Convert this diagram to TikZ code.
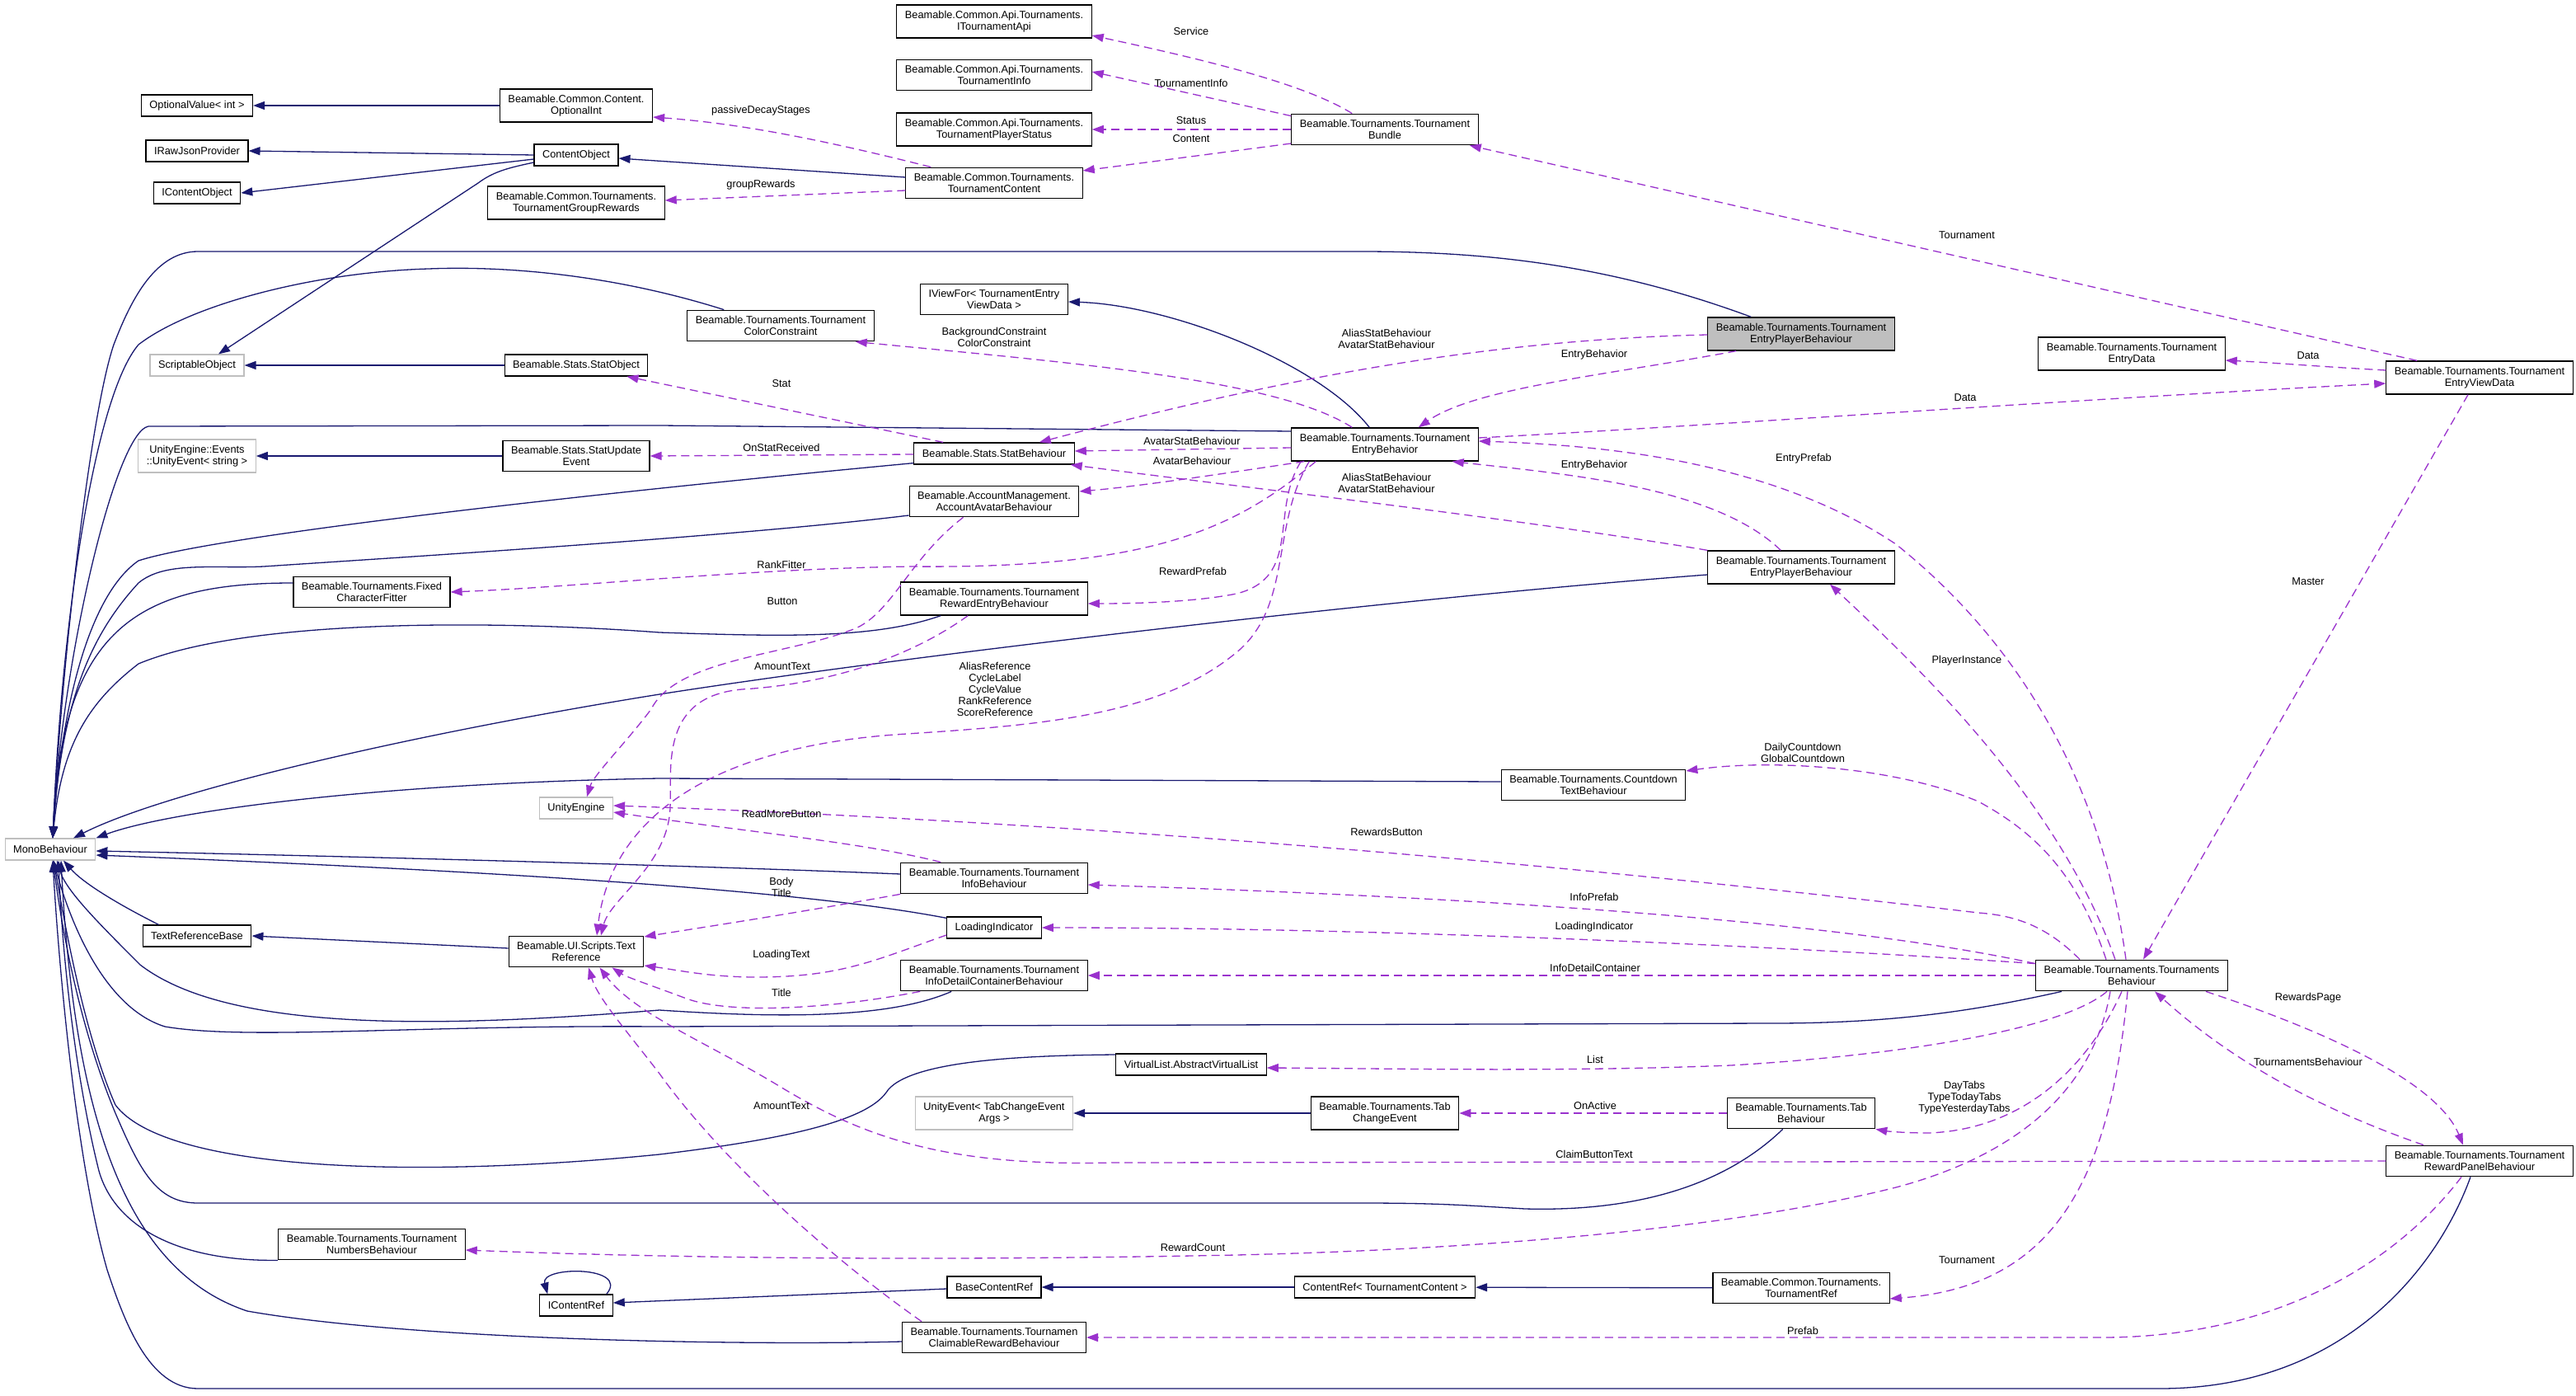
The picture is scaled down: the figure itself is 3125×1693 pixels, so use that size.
\documentclass[tikz,border=0pt]{standalone}
\usepackage{fontspec}
\newfontfamily\dxfamily{Liberation Sans}
\newcommand{\dxfont}{\dxfamily\fontsize{12.8}{14.2}\selectfont}
\usetikzlibrary{arrows.meta,calc}
\definecolor{inhblue}{RGB}{25,25,112}
\definecolor{usepurple}{RGB}{154,50,205}
\definecolor{extgray}{RGB}{191,191,191}

\begin{document}
\begin{tikzpicture}[x=1pt, y=-1pt,
    cls/.style={draw=black, fill=white, line width=1.2pt, font=\dxfont, align=center,
      inner xsep=10pt, inner ysep=7pt, minimum height=26pt},
    ext/.style={cls, draw=extgray},
    focusbox/.style={cls, fill=extgray},
    inh/.style={draw=inhblue, line width=1.3pt, -{Triangle[length=14pt,width=10pt]}},
    usage/.style={draw=usepurple, line width=1.3pt, dash pattern=on 10pt off 6pt,
      -{Triangle[length=14pt,width=10pt]}},
    lbl/.style={font=\dxfont, align=center, inner sep=0pt}
  ]
  \useasboundingbox (0,0) rectangle (3125,1693);
  \fill[white] (0,0) rectangle (3125,1693);

  % left columns
  \node[cls] (optval) at (239,128) {OptionalValue< int >};
  \node[cls] (rawjson) at (239,183) {IRawJsonProvider};
  \node[cls] (icontobj) at (239,234) {IContentObject};
  \node[ext] (scriptobj) at (239,443) {ScriptableObject};
  \node[ext] (uevstr) at (239,553) {UnityEngine::Events\\::UnityEvent< string >};
  \node[ext] (mono) at (61,1030) {MonoBehaviour};
  \node[cls] (textrefbase) at (239,1135) {TextReferenceBase};
  \node[cls] (fitter) at (451,718) {Beamable.Tournaments.Fixed\\CharacterFitter};
  \node[cls] (numbers) at (451,1509) {Beamable.Tournaments.Tournament\\NumbersBehaviour};

  \node[cls] (optint) at (699,128) {Beamable.Common.Content.\\OptionalInt};
  \node[cls] (contobj) at (699,188) {ContentObject};
  \node[cls] (grprew) at (699,246) {Beamable.Common.Tournaments.\\TournamentGroupRewards};
  \node[cls] (statobj) at (699,443) {Beamable.Stats.StatObject};
  \node[cls] (statupd) at (699,553) {Beamable.Stats.StatUpdate\\Event};
  \node[ext] (uengine) at (699,980) {UnityEngine};
  \node[cls] (textref) at (699,1154) {Beamable.UI.Scripts.Text\\Reference};
  \node[cls] (icontref) at (699,1583) {IContentRef};

  % middle column
  \node[cls] (tapi) at (1206,26) {Beamable.Common.Api.Tournaments.\\ITournamentApi};
  \node[cls] (tinfo) at (1206,91) {Beamable.Common.Api.Tournaments.\\TournamentInfo};
  \node[cls] (tpstat) at (1206,157) {Beamable.Common.Api.Tournaments.\\TournamentPlayerStatus};
  \node[cls] (tcontent) at (1206,222) {Beamable.Common.Tournaments.\\TournamentContent};
  \node[cls] (iviewfor) at (1206,363) {IViewFor< TournamentEntry\\ViewData >};
  \node[cls] (colorcon) at (947,395) {Beamable.Tournaments.Tournament\\ColorConstraint};
  \node[cls] (statbeh) at (1206,550) {Beamable.Stats.StatBehaviour};
  \node[cls] (avatar) at (1206,608) {Beamable.AccountManagement.\\AccountAvatarBehaviour};
  \node[cls] (rewentry) at (1206,726) {Beamable.Tournaments.Tournament\\RewardEntryBehaviour};
  \node[cls] (infobeh) at (1206,1065) {Beamable.Tournaments.Tournament\\InfoBehaviour};
  \node[cls] (loading) at (1206,1125) {LoadingIndicator};
  \node[cls] (infodetail) at (1206,1183) {Beamable.Tournaments.Tournament\\InfoDetailContainerBehaviour};
  \node[cls] (vlist) at (1445,1291) {VirtualList.AbstractVirtualList};
  \node[ext] (uevtab) at (1206,1350) {UnityEvent< TabChangeEvent\\Args >};
  \node[cls] (basecref) at (1206,1561) {BaseContentRef};
  \node[cls] (claim) at (1206,1622) {Beamable.Tournaments.Tournamen\\ClaimableRewardBehaviour};

  % right columns
  \node[cls] (bundle) at (1680,157) {Beamable.Tournaments.Tournament\\Bundle};
  \node[cls] (entrybeh) at (1680,539) {Beamable.Tournaments.Tournament\\EntryBehavior};
  \node[cls] (tabchg) at (1680,1350) {Beamable.Tournaments.Tab\\ChangeEvent};
  \node[cls] (cref) at (1680,1561) {ContentRef< TournamentContent >};
  \node[cls] (countdown) at (1933,952) {Beamable.Tournaments.Countdown\\TextBehaviour};
  \node[focusbox] (playertop) at (2185,405) {Beamable.Tournaments.Tournament\\EntryPlayerBehaviour};
  \node[cls] (player) at (2185,688) {Beamable.Tournaments.Tournament\\EntryPlayerBehaviour};
  \node[cls] (tabbeh) at (2185,1350) {Beamable.Tournaments.Tab\\Behaviour};
  \node[cls] (tref) at (2185,1562) {Beamable.Common.Tournaments.\\TournamentRef};
  \node[cls] (entrydata) at (2586,429) {Beamable.Tournaments.Tournament\\EntryData};
  \node[cls] (tbeh) at (2586,1183) {Beamable.Tournaments.Tournaments\\Behaviour};
  \node[cls] (viewdata) at (3008,458) {Beamable.Tournaments.Tournament\\EntryViewData};
  \node[cls] (panel) at (3008,1408) {Beamable.Tournaments.Tournament\\RewardPanelBehaviour};

  % inheritance
  \draw[inh] (optint) -- (optval);
  \draw[inh] (contobj.west) -- (rawjson.east);
  \draw[inh] ($(contobj.west)+(0,5)$) -- (icontobj.east);
  \draw[inh] ($(contobj.west)+(0,9)$) .. controls (620,203) and (600,207) .. (580,222) -- ($(scriptobj.north)+(26,0)$);
  \draw[inh] ($(tcontent.west)+(0,-7)$) -- ($(contobj.east)+(0,4)$);
  \draw[inh] (statobj) -- (scriptobj);
  \draw[inh] (statupd) -- (uevstr);
  \draw[inh] ($(entrybeh.north west)+(95,0)$) .. controls (1600,440) and (1420,370) .. ($(iviewfor.east)+(0,3)$);
  \draw[inh] ($(textref.west)+(0,-4)$) -- (textrefbase.east);
  \draw[inh] (tabchg) -- (uevtab);
  \draw[inh] ($(basecref.west)+(0,2)$) -- ($(icontref.east)+(0,-3)$);
  \draw[inh] ($(icontref.north east)+(-8,0)$) .. controls (765,1535) and (655,1535) .. ($(icontref.north west)+(10,0)$);
  \draw[inh] (cref) -- (basecref);
  \draw[inh] (tref) -- (cref);

  % into MonoBehaviour from above
  \draw[inh] ($(playertop.north west)+(53,0)$) .. controls (1950,320) and (1800,305) .. (1650,305) -- (240,305)
    .. controls (190,305) and (160,360) .. (138,418) .. controls (110,500) and (75,800) .. ($(mono.north)+(3,0)$);
  \draw[inh] ($(colorcon.north west)+(45,0)$) .. controls (750,335) and (620,322) .. (520,326)
    .. controls (380,330) and (230,370) .. (168,418) .. controls (115,480) and (75,750) .. ($(mono.north)+(3,0)$);
  \draw[inh] ($(entrybeh.west)+(0,-16)$) -- (800,516) -- (180,517) .. controls (140,525) and (75,800) .. ($(mono.north)+(3,0)$);
  \draw[inh] ($(statbeh.south west)+(0,-2)$) .. controls (700,600) and (260,650) .. (168,680)
    .. controls (110,720) and (75,850) .. ($(mono.north)+(3,0)$);
  \draw[inh] ($(avatar.west)+(0,17)$) .. controls (900,650) and (500,675) .. (320,687)
    .. controls (260,690) and (200,680) .. (168,707) .. controls (110,770) and (75,850) .. ($(mono.north)+(3,0)$);
  \draw[inh] ($(fitter.west)+(0,-11)$) .. controls (170,707) and (75,760) .. ($(mono.north)+(3,0)$);
  \draw[inh] ($(rewentry.south west)+(49,0)$) .. controls (1060,775) and (950,772) .. (800,767)
    .. controls (600,752) and (300,750) .. (168,805) .. controls (110,850) and (75,900) .. ($(mono.north)+(3,0)$);
  \draw[inh] ($(player.west)+(0,9)$) .. controls (1700,725) and (1100,795) .. (800,842)
    .. controls (500,890) and (200,960) .. ($(mono.north)+(28,0)$);
  \draw[inh] ($(countdown.west)+(0,-4)$) -- (800,944) .. controls (450,950) and (200,985) .. (mono.north east);
  \draw[inh] ($(infobeh.west)+(0,-5)$) .. controls (900,1052) and (500,1040) .. ($(mono.east)+(0,2)$);
  \draw[inh] ($(loading.north west)+(0,2)$) .. controls (1000,1085) and (700,1060) .. ($(mono.east)+(0,7)$);

  % into MonoBehaviour from below
  \draw[inh] ($(textrefbase.north west)+(20,0)$) .. controls (140,1095) and (100,1070) .. ($(mono.south)+(16,0)$);
  \draw[inh] ($(infodetail.south west)+(62,0)$) .. controls (1080,1235) and (950,1235) .. (800,1225)
    .. controls (550,1245) and (280,1255) .. (170,1170) .. controls (120,1120) and (80,1080) .. ($(mono.south)+(8,0)$);
  \draw[inh] ($(tbeh.south west)+(32,0)$) .. controls (2400,1225) and (2300,1241) .. (2150,1241) -- (800,1245)
    .. controls (500,1243) and (300,1262) .. (200,1245) .. controls (120,1220) and (80,1100) .. ($(mono.south)+(4,0)$);
  \draw[inh] ($(vlist.west)+(0,-12)$) .. controls (1250,1280) and (1100,1285) .. (1075,1325)
    .. controls (1050,1360) and (950,1382) .. (800,1400) .. controls (500,1430) and (200,1420) .. (140,1340)
    .. controls (100,1250) and (75,1100) .. ($(mono.south)+(4,0)$);
  \draw[inh] ($(tabbeh.south west)+(68,0)$) .. controls (2100,1430) and (2000,1470) .. (1850,1466)
    .. controls (1780,1462) and (1750,1459) .. (1650,1459) -- (240,1459)
    .. controls (190,1459) and (170,1420) .. (140,1350) .. controls (90,1230) and (72,1100) .. ($(mono.south)+(3,0)$);
  \draw[inh] (numbers.south west) .. controls (220,1530) and (140,1490) .. (120,1420)
    .. controls (90,1300) and (75,1150) .. ($(mono.south)+(10,0)$);
  \draw[inh] ($(claim.west)+(0,5)$) .. controls (900,1632) and (500,1625) .. (300,1590)
    .. controls (150,1540) and (90,1350) .. ($(mono.south)+(13,0)$);
  \draw[inh] ($(panel.south)+(-11,0)$) .. controls (2960,1530) and (2850,1684) .. (2620,1684) -- (240,1684)
    .. controls (180,1684) and (150,1600) .. (130,1540) .. controls (90,1400) and (70,1150) .. ($(mono.south)+(3,0)$);

  % usage
  \draw[usage] ($(bundle.north west)+(74,0)$) .. controls (1580,100) and (1450,70) .. ($(tapi.east)+(0,17)$);
  \draw[usage] ($(bundle.north west)+(0,3)$) -- ($(tinfo.east)+(0,-4)$);
  \draw[usage] (bundle.west) -- (tpstat.east);
  \draw[usage] ($(bundle.west)+(0,17)$) -- ($(tcontent.east)+(0,-15)$);
  \draw[usage] ($(tcontent.north west)+(31,0)$) .. controls (1000,170) and (900,150) .. ($(optint.east)+(0,14)$);
  \draw[usage] ($(tcontent.west)+(0,9)$) -- ($(grprew.east)+(0,-3)$);
  \draw[usage] ($(viewdata.north west)+(38,0)$) -- ($(bundle.south east)+(-11,0)$);
  \draw[usage] ($(viewdata.west)+(0,-9)$) .. controls (2820,445) and (2760,440) .. ($(entrydata.east)+(0,8)$);
  \draw[usage] ($(entrybeh.east)+(0,-8)$) .. controls (2100,515) and (2500,485) .. ($(viewdata.west)+(0,7)$);
  \draw[usage] ($(playertop.west)+(0,1)$) .. controls (1800,412) and (1550,460) .. ($(statbeh.north east)+(-43,0)$);
  \draw[usage] ($(playertop.south west)+(35,0)$) .. controls (1950,455) and (1790,470) .. ($(entrybeh.north east)+(-73,0)$);
  \draw[usage] ($(entrybeh.north west)+(74,0)$) .. controls (1550,460) and (1300,440) .. ($(colorcon.south east)+(-23,0)$);
  \draw[usage] ($(statbeh.north west)+(36,0)$) -- ($(statobj.south east)+(-26,0)$);
  \draw[usage] ($(statbeh.west)+(0,1)$) -- (statupd.east);
  \draw[usage] ($(entrybeh.west)+(0,4)$) -- ($(statbeh.east)+(0,-3)$);
  \draw[usage] ($(entrybeh.south west)+(16,0)$) .. controls (1480,575) and (1380,590) .. ($(avatar.east)+(0,-12)$);
  \draw[usage] (player.north west) .. controls (1850,630) and (1500,590) .. ($(statbeh.south east)+(-5,0)$);
  \draw[usage] ($(player.north west)+(89,0)$) .. controls (2080,590) and (1900,575) .. ($(entrybeh.south east)+(-32,0)$);
  \draw[usage] ($(entrybeh.south west)+(30,0)$) .. controls (1500,640) and (1400,690) .. (1106,687)
    .. controls (900,690) and (700,712) .. (fitter.east);
  \draw[usage] ($(entrybeh.south west)+(12,0)$) .. controls (1540,620) and (1580,700) .. (1500,720)
    .. controls (1450,730) and (1380,732) .. ($(rewentry.east)+(0,6)$);
  \draw[usage] ($(entrybeh.south west)+(22,0)$) .. controls (1540,640) and (1570,740) .. (1494,796)
    .. controls (1400,870) and (1250,880) .. (1100,890) .. controls (850,905) and (740,1000) .. ($(textref.north)+(25,0)$);
  \draw[usage] ($(avatar.south west)+(66,0)$) .. controls (1100,680) and (1080,750) .. (1030,765)
    .. controls (950,795) and (820,800) .. (790,860) .. controls (760,900) and (720,940) .. ($(uengine.north)+(13,0)$);
  \draw[usage] ($(rewentry.south west)+(82,0)$) .. controls (1100,800) and (1000,830) .. (900,836)
    .. controls (800,845) and (815,930) .. (813,980) .. controls (810,1050) and (740,1090) .. ($(textref.north)+(30,0)$);
  \draw[usage] ($(tbeh.north)+(-7,0)$) .. controls (2550,950) and (2450,780) .. (2300,660)
    .. controls (2150,560) and (1950,540) .. ($(entrybeh.east)+(0,-4)$);
  \draw[usage] ($(tbeh.north)+(-20,0)$) .. controls (2500,980) and (2350,830) .. ($(player.south)+(35,0)$);
  \draw[usage] ($(tbeh.north)+(-31,0)$) .. controls (2520,1060) and (2470,1010) .. (2400,972)
    .. controls (2300,930) and (2150,920) .. ($(countdown.east)+(0,-17)$);
  \draw[usage] ($(tbeh.north west)+(54,0)$) .. controls (2480,1120) and (2440,1110) .. (2400,1107)
    .. controls (2000,1060) and (1400,1000) .. ($(uengine.east)+(0,-3)$);
  \draw[usage] ($(infobeh.north west)+(49,0)$) .. controls (1050,1022) and (900,1008) .. ($(uengine.east)+(0,5)$);
  \draw[usage] ($(tbeh.north west)+(0,5)$) .. controls (2200,1110) and (1700,1085) .. ($(infobeh.east)+(0,8)$);
  \draw[usage] (infobeh.south west) .. controls (950,1110) and (850,1125) .. ($(textref.east)+(0,-18)$);
  \draw[usage] ($(tbeh.north west)+(0,5)$) .. controls (2200,1150) and (1700,1125) .. (loading.east);
  \draw[usage] ($(loading.west)+(0,9)$) .. controls (1060,1165) and (1020,1185) .. (917,1185)
    .. controls (860,1185) and (820,1176) .. ($(textref.east)+(0,17)$);
  \draw[usage] (tbeh.west) -- (infodetail.east);
  \draw[usage] ($(infodetail.south west)+(24,0)$) .. controls (1000,1225) and (880,1230) .. (830,1210)
    .. controls (790,1195) and (760,1185) .. ($(textref.south east)+(-39,0)$);
  \draw[usage] ($(tbeh.south)+(-30,0)$) .. controls (2500,1250) and (2300,1280) .. (2100,1292)
    .. controls (1900,1300) and (1700,1296) .. ($(vlist.east)+(0,4)$);
  \draw[usage] (tabbeh) -- (tabchg);
  \draw[usage] ($(tbeh.south)+(-12,0)$) .. controls (2530,1300) and (2450,1370) .. (2340,1374)
    .. controls (2310,1374) and (2290,1372) .. (tabbeh.south east);
  \draw[usage] (panel.west) -- (1350,1410) .. controls (1150,1415) and (1050,1380) .. (950,1320)
    .. controls (860,1265) and (770,1230) .. ($(textref.south east)+(-54,0)$);
  \draw[usage] ($(claim.north west)+(24,0)$) .. controls (1000,1520) and (870,1400) .. (800,1302)
    .. controls (760,1250) and (725,1210) .. ($(textref.south)+(15,0)$);
  \draw[usage] ($(tbeh.south)+(-26,0)$) .. controls (2540,1320) and (2450,1400) .. (2300,1440)
    .. controls (2100,1490) and (1800,1515) .. (1500,1522) .. controls (1100,1530) and (800,1525) .. ($(numbers.east)+(0,7)$);
  \draw[usage] ($(tbeh.south)+(-5,0)$) .. controls (2560,1420) and (2500,1560) .. ($(tref.east)+(0,13)$);
  \draw[usage] ($(panel.south)+(-22,0)$) .. controls (2900,1540) and (2750,1622) .. (2550,1622) -- (claim.east);
  \draw[usage] ($(tbeh.south east)+(-27,0)$) .. controls (2850,1260) and (2960,1320) .. ($(panel.north)+(-20,0)$);
  \draw[usage] ($(panel.north)+(-68,0)$) .. controls (2800,1340) and (2700,1280) .. ($(tbeh.south)+(28,0)$);
  \draw[usage] ($(viewdata.south)+(-14,0)$) -- ($(tbeh.north)+(14,0)$);

  % edge labels
  \node[lbl] (lService) at (1445,38) {Service};
  \node[lbl] (lTInfo) at (1445,101) {TournamentInfo};
  \node[lbl] (lStatus) at (1445,146) {Status};
  \node[lbl] (lContent) at (1445,168) {Content};
  \node[lbl] (lDecay) at (923,134) {passiveDecayStages};
  \node[lbl] (lGroup) at (923,224) {groupRewards};
  \node[lbl] (lTourn) at (2386,285) {Tournament};
  \node[lbl] (lData) at (2800,431) {Data};
  \node[lbl] (lData2) at (2384,482) {Data};
  \node[lbl] (lAlias) at (1682,411) {AliasStatBehaviour\\AvatarStatBehaviour};
  \node[lbl] (lEntryB) at (1934,430) {EntryBehavior};
  \node[lbl] (lBgCon) at (1206,409) {BackgroundConstraint\\ColorConstraint};
  \node[lbl] (lStat) at (948,465) {Stat};
  \node[lbl] (lOnStat) at (948,543) {OnStatReceived};
  \node[lbl] (lAvStat) at (1446,535) {AvatarStatBehaviour};
  \node[lbl] (lAvBeh) at (1446,559) {AvatarBehaviour};
  \node[lbl] (lEntryB2) at (1934,564) {EntryBehavior};
  \node[lbl] (lEntryPre) at (2188,556) {EntryPrefab};
  \node[lbl] (lAlias2) at (1682,586) {AliasStatBehaviour\\AvatarStatBehaviour};
  \node[lbl] (lRank) at (948,685) {RankFitter};
  \node[lbl] (lRewPre) at (1447,693) {RewardPrefab};
  \node[lbl] (lButton) at (949,729) {Button};
  \node[lbl] (lAmount) at (949,808) {AmountText};
  \node[lbl] (lRefs) at (1207,836) {AliasReference\\CycleLabel\\CycleValue\\RankReference\\ScoreReference};
  \node[lbl] (lPlayer) at (2386,801) {PlayerInstance};
  \node[lbl] (lMaster) at (2800,705) {Master};
  \node[lbl] (lCount) at (2187,913) {DailyCountdown\\GlobalCountdown};
  \node[lbl] (lRewBtn) at (1682,1009) {RewardsButton};
  \node[lbl] (lReadMore) at (948,987) {ReadMoreButton};
  \node[lbl] (lInfoPre) at (1934,1088) {InfoPrefab};
  \node[lbl] (lBody) at (948,1076) {Body\\Title};
  \node[lbl] (lLoadInd) at (1934,1124) {LoadingIndicator};
  \node[lbl] (lLoadTxt) at (948,1158) {LoadingText};
  \node[lbl] (lDetail) at (1935,1174) {InfoDetailContainer};
  \node[lbl] (lTitle) at (948,1204) {Title};
  \node[lbl] (lList) at (1935,1285) {List};
  \node[lbl] (lAmount2) at (948,1341) {AmountText};
  \node[lbl] (lOnActive) at (1935,1341) {OnActive};
  \node[lbl] (lDayTabs) at (2383,1331) {DayTabs\\TypeTodayTabs\\TypeYesterdayTabs};
  \node[lbl] (lClaim) at (1934,1400) {ClaimButtonText};
  \node[lbl] (lRewCnt) at (1447,1513) {RewardCount};
  \node[lbl] (lTourn2) at (2386,1528) {Tournament};
  \node[lbl] (lPrefab) at (2187,1614) {Prefab};
  \node[lbl] (lRewPage) at (2800,1210) {RewardsPage};
  \node[lbl] (lTBeh) at (2800,1288) {TournamentsBehaviour};
\end{tikzpicture}
\end{document}
